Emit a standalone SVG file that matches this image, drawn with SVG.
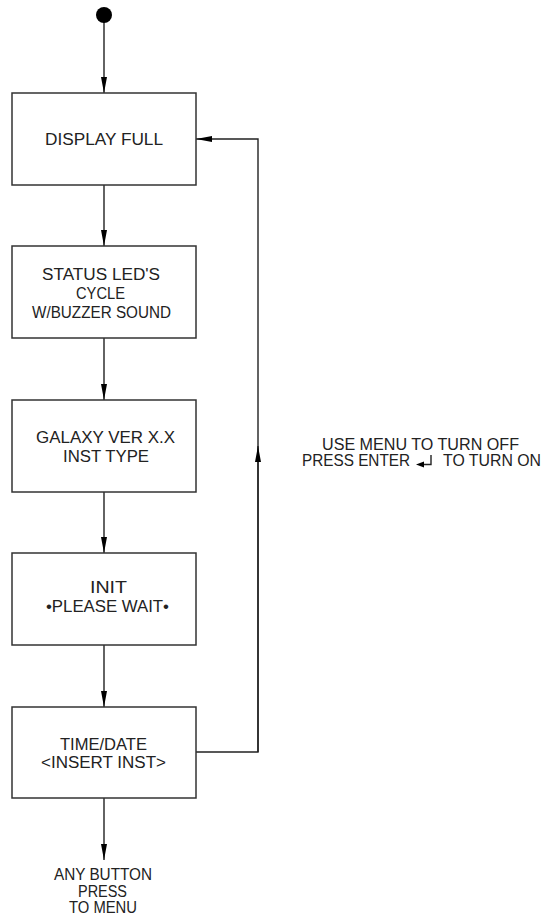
<svg xmlns="http://www.w3.org/2000/svg" width="547" height="921" viewBox="0 0 547 921">
<defs>
<style>
.box{fill:#fff;stroke:#333;stroke-width:1.5}
.ln{fill:none;stroke:#222;stroke-width:1.4}
.t{font-family:"Liberation Sans",Arial,sans-serif;font-size:16px;fill:#222;text-anchor:middle}
.ts{font-family:"Liberation Sans",Arial,sans-serif;font-size:16px;fill:#222}
</style>
<marker id="ah" viewBox="0 0 16 6" refX="16" refY="3" markerWidth="16" markerHeight="6" markerUnits="userSpaceOnUse" orient="auto">
<path d="M0,0 L16,3 L0,6 Z" fill="#000"/>
</marker>
</defs>
<rect width="547" height="921" fill="#fff"/>
<g id="connectors">
<line class="ln" x1="104" y1="20" x2="104" y2="93" marker-end="url(#ah)"/>
<line class="ln" x1="104" y1="185" x2="104" y2="246" marker-end="url(#ah)"/>
<line class="ln" x1="104" y1="338" x2="104" y2="400" marker-end="url(#ah)"/>
<line class="ln" x1="104" y1="492" x2="104" y2="553" marker-end="url(#ah)"/>
<line class="ln" x1="104" y1="645" x2="104" y2="707" marker-end="url(#ah)"/>
<line class="ln" x1="104" y1="798" x2="104" y2="860" marker-end="url(#ah)"/>
<polyline class="ln" points="196,752 258,752 258,139 196,139" marker-end="url(#ah)"/>
<line class="ln" x1="258" y1="752" x2="258" y2="446" marker-end="url(#ah)"/>
</g>
<g id="start">
<circle cx="104" cy="15" r="8" fill="#000"/>
</g>
<g id="n1">
<rect class="box" x="12" y="93" width="184" height="92"/>
<text class="t" x="104" y="145" textLength="118" lengthAdjust="spacingAndGlyphs">DISPLAY FULL</text>
</g>
<g id="n2">
<rect class="box" x="12" y="246" width="184" height="92"/>
<text class="t" x="101" y="280" textLength="118" lengthAdjust="spacingAndGlyphs">STATUS LED'S</text>
<text class="t" x="100.5" y="299" textLength="49" lengthAdjust="spacingAndGlyphs">CYCLE</text>
<text class="t" x="101.5" y="318" textLength="139" lengthAdjust="spacingAndGlyphs">W/BUZZER SOUND</text>
</g>
<g id="n3">
<rect class="box" x="12" y="400" width="184" height="92"/>
<text class="t" x="105.5" y="443" textLength="139" lengthAdjust="spacingAndGlyphs">GALAXY VER X.X</text>
<text class="t" x="106" y="462" textLength="86" lengthAdjust="spacingAndGlyphs">INST TYPE</text>
</g>
<g id="n4">
<rect class="box" x="12" y="553" width="184" height="92"/>
<text class="t" x="108.5" y="593" textLength="37" lengthAdjust="spacingAndGlyphs">INIT</text>
<text class="t" x="107.5" y="612" textLength="123" lengthAdjust="spacingAndGlyphs">•PLEASE WAIT•</text>
</g>
<g id="n5">
<rect class="box" x="12" y="707" width="184" height="91"/>
<text class="t" x="103.5" y="750" textLength="87" lengthAdjust="spacingAndGlyphs">TIME/DATE</text>
<text class="t" x="103.5" y="768" textLength="125" lengthAdjust="spacingAndGlyphs">&lt;INSERT INST&gt;</text>
</g>
<g id="end">
<text class="t" x="103" y="880" textLength="98" lengthAdjust="spacingAndGlyphs">ANY BUTTON</text>
<text class="t" x="102.5" y="897" textLength="49" lengthAdjust="spacingAndGlyphs">PRESS</text>
<text class="t" x="103" y="913" textLength="68" lengthAdjust="spacingAndGlyphs">TO MENU</text>
</g>
<g id="note">
<text class="ts" x="322" y="450" textLength="197" lengthAdjust="spacingAndGlyphs">USE MENU TO TURN OFF</text>
<text class="ts" x="302" y="466" textLength="108" lengthAdjust="spacingAndGlyphs">PRESS ENTER</text>
<path d="M423,464.5 L431,464.5 L431,455" fill="none" stroke="#222" stroke-width="1.4"/>
<path d="M416,464.5 L424,461.5 L424,467.5 Z" fill="#000"/>
<text class="ts" x="443" y="466" textLength="98" lengthAdjust="spacingAndGlyphs">TO TURN ON</text>
</g>
</svg>
